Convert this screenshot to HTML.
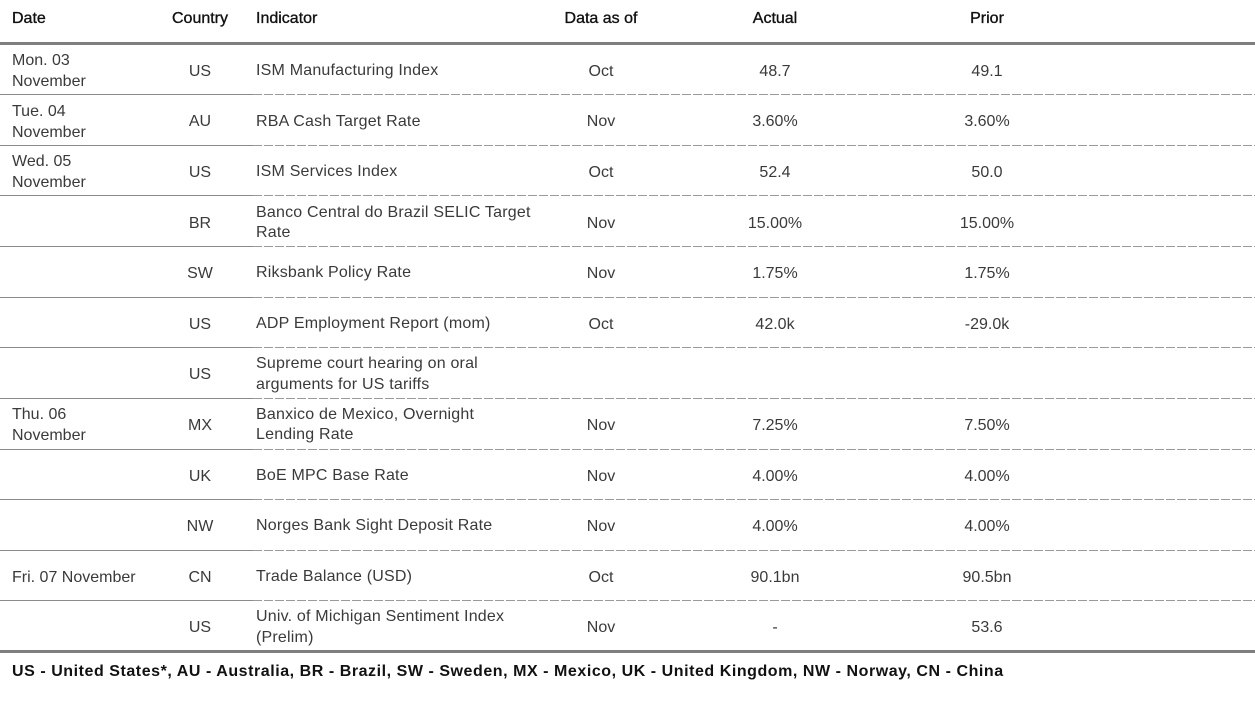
<!DOCTYPE html>
<html><head><meta charset="utf-8">
<style>
html,body{margin:0;padding:0;background:#fff;}
body{width:1255px;height:703px;position:relative;overflow:hidden;font-family:"Liberation Sans",Arial,sans-serif;}
.h{position:absolute;top:1px;height:36px;display:flex;align-items:center;font-size:16px;color:#111;-webkit-text-stroke:0.35px #111;}
.thick{position:absolute;left:0;width:1255px;height:3px;background:#7f7f7f;}
.row{position:absolute;left:0;width:1255px;height:50.6px;}
.c{position:absolute;top:2px;height:100%;display:flex;align-items:center;font-size:16px;color:#3a3a3a;line-height:21px;}
.d{left:12px;width:200px;}
.co{left:150px;width:100px;justify-content:center;text-align:center;}
.ind{left:256px;width:300px;line-height:20.5px;letter-spacing:0.2px;}
.da{left:551px;width:100px;justify-content:center;}
.ac{left:700px;width:150px;justify-content:center;}
.pr{left:912px;width:150px;justify-content:center;}
.sep{position:absolute;left:0;width:1255px;height:1px;}
.sep .s{position:absolute;left:0;top:0;width:253px;height:1px;background:#8a8a8a;}
.sep .ds{position:absolute;left:253px;top:0;width:1002px;height:1px;background:repeating-linear-gradient(to right,#9a9a9a 0 9px,transparent 9px 11px);}
.foot{position:absolute;left:12px;top:662px;font-size:16px;font-weight:bold;color:#111;white-space:nowrap;line-height:20px;letter-spacing:0.55px;}
</style></head><body>
<div class="h" style="left:12px;">Date</div>
<div class="h" style="left:150px;width:100px;justify-content:center;">Country</div>
<div class="h" style="left:256px;">Indicator</div>
<div class="h" style="left:531px;width:140px;justify-content:center;">Data as of</div>
<div class="h" style="left:700px;width:150px;justify-content:center;">Actual</div>
<div class="h" style="left:912px;width:150px;justify-content:center;">Prior</div>
<div class="thick" style="top:42px;"></div>

<div class="row" style="top:44px;"><div class="c d">Mon. 03<br>November</div><div class="c co">US</div><div class="c ind">ISM Manufacturing Index</div><div class="c da">Oct</div><div class="c ac">48.7</div><div class="c pr">49.1</div></div>
<div class="row" style="top:94.6px;"><div class="c d">Tue. 04<br>November</div><div class="c co">AU</div><div class="c ind">RBA Cash Target Rate</div><div class="c da">Nov</div><div class="c ac">3.60%</div><div class="c pr">3.60%</div></div>
<div class="row" style="top:145.2px;"><div class="c d">Wed. 05<br>November</div><div class="c co">US</div><div class="c ind">ISM Services Index</div><div class="c da">Oct</div><div class="c ac">52.4</div><div class="c pr">50.0</div></div>
<div class="row" style="top:195.8px;"><div class="c co">BR</div><div class="c ind">Banco Central do Brazil SELIC Target<br>Rate</div><div class="c da">Nov</div><div class="c ac">15.00%</div><div class="c pr">15.00%</div></div>
<div class="row" style="top:246.4px;"><div class="c co">SW</div><div class="c ind">Riksbank Policy Rate</div><div class="c da">Nov</div><div class="c ac">1.75%</div><div class="c pr">1.75%</div></div>
<div class="row" style="top:297px;"><div class="c co">US</div><div class="c ind">ADP Employment Report (mom)</div><div class="c da">Oct</div><div class="c ac">42.0k</div><div class="c pr">-29.0k</div></div>
<div class="row" style="top:347.6px;"><div class="c co">US</div><div class="c ind">Supreme court hearing on oral<br>arguments for US tariffs</div></div>
<div class="row" style="top:398.2px;"><div class="c d">Thu. 06<br>November</div><div class="c co">MX</div><div class="c ind">Banxico de Mexico, Overnight<br>Lending Rate</div><div class="c da">Nov</div><div class="c ac">7.25%</div><div class="c pr">7.50%</div></div>
<div class="row" style="top:448.8px;"><div class="c co">UK</div><div class="c ind">BoE MPC Base Rate</div><div class="c da">Nov</div><div class="c ac">4.00%</div><div class="c pr">4.00%</div></div>
<div class="row" style="top:499.4px;"><div class="c co">NW</div><div class="c ind">Norges Bank Sight Deposit Rate</div><div class="c da">Nov</div><div class="c ac">4.00%</div><div class="c pr">4.00%</div></div>
<div class="row" style="top:550px;"><div class="c d">Fri. 07 November</div><div class="c co">CN</div><div class="c ind">Trade Balance (USD)</div><div class="c da">Oct</div><div class="c ac">90.1bn</div><div class="c pr">90.5bn</div></div>
<div class="row" style="top:600.6px;"><div class="c co">US</div><div class="c ind">Univ. of Michigan Sentiment Index<br>(Prelim)</div><div class="c da">Nov</div><div class="c ac">-</div><div class="c pr">53.6</div></div>

<div class="sep" style="top:94px;"><div class="s"></div><div class="ds"></div></div>
<div class="sep" style="top:145px;"><div class="s"></div><div class="ds"></div></div>
<div class="sep" style="top:195px;"><div class="s"></div><div class="ds"></div></div>
<div class="sep" style="top:246px;"><div class="s"></div><div class="ds"></div></div>
<div class="sep" style="top:297px;"><div class="s"></div><div class="ds"></div></div>
<div class="sep" style="top:347px;"><div class="s"></div><div class="ds"></div></div>
<div class="sep" style="top:398px;"><div class="s"></div><div class="ds"></div></div>
<div class="sep" style="top:449px;"><div class="s"></div><div class="ds"></div></div>
<div class="sep" style="top:499px;"><div class="s"></div><div class="ds"></div></div>
<div class="sep" style="top:550px;"><div class="s"></div><div class="ds"></div></div>
<div class="sep" style="top:600px;"><div class="s"></div><div class="ds"></div></div>

<div class="thick" style="top:650px;"></div>
<div class="foot">US - United States*, AU - Australia, BR - Brazil, SW - Sweden, MX - Mexico, UK - United Kingdom, NW - Norway, CN - China</div>
</body></html>
